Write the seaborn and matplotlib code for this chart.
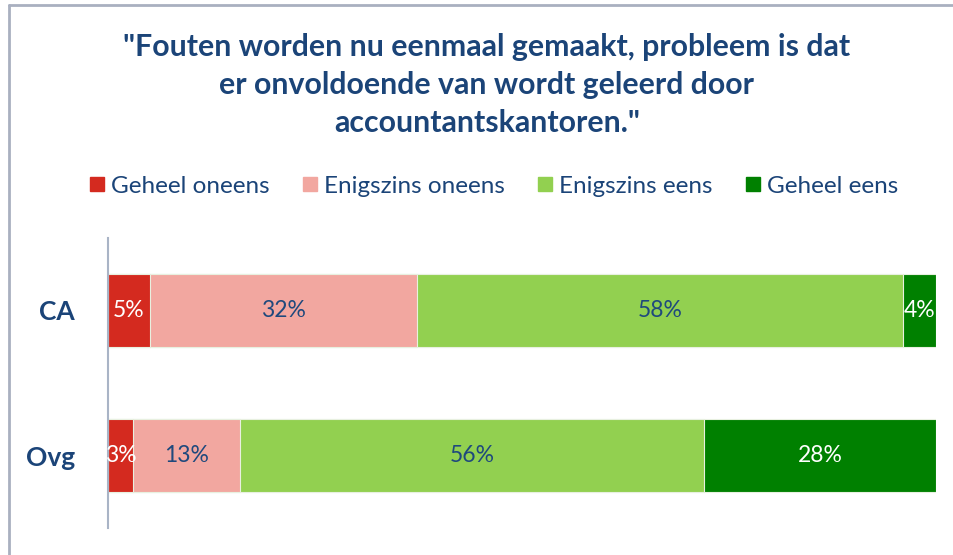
import matplotlib
matplotlib.use("Agg")
import matplotlib.pyplot as plt
from matplotlib.lines import Line2D
import seaborn as sns
import numpy as np
import pandas as pd

categories = ["CA", "Ovg"]
series = ["Geheel oneens", "Enigszins oneens", "Enigszins eens", "Geheel eens"]
geheel_oneens = [5, 3]
enigszins_oneens = [32, 13]
enigszins_eens = [58, 56]
geheel_eens = [4, 28]
title = '"Fouten worden nu eenmaal gemaakt, probleem is dat\ner onvoldoende van wordt geleerd door\naccountantskantoren."'

colors = ["#D42A1F", "#F2A7A0", "#92D050", "#008000"]
label_colors = ["white", "#1F497D", "#1F497D", "white"]
navy = "#1B4478"

sns.set_theme(style="white")
plt.rcParams["font.family"] = ["Lato", "DejaVu Sans"]

vals = np.array([geheel_oneens, enigszins_oneens, enigszins_eens, geheel_eens], dtype=float)
totals = vals.sum(axis=0)
norm = vals / totals * 100
cum = np.cumsum(norm, axis=0)

fig = plt.figure(figsize=(9.54, 5.55), dpi=100)
ax = fig.add_axes([108/954, 1-528/555, (936-108)/954, (528-238)/555])

# draw cumulative layers from the longest to the shortest
for i in range(len(series) - 1, -1, -1):
    df = pd.DataFrame({"cat": categories, "val": cum[i]})
    sns.barplot(data=df, y="cat", x="val", orient="h", color=colors[i],
                width=0.51, ax=ax, edgecolor="#E8F0E0", linewidth=0.8,
                saturation=1)

starts = cum - norm
for i in range(len(series)):
    for j in range(len(categories)):
        cx = starts[i, j] + norm[i, j] / 2
        ax.text(cx, j, f"{int(vals[i, j])}%", ha="center", va="center",
                fontsize=16.5, color=label_colors[i])

ax.set_xlim(0, 100)
ax.set_ylim(1.5, -0.5)
ax.set_xlabel("")
ax.set_ylabel("")
ax.set_xticks([])
ax.set_yticks([0, 1])
ax.set_yticklabels(categories, fontsize=19, fontweight="bold", color=navy)
ax.tick_params(axis="y", length=0, pad=24)
for s in ["top", "right", "bottom"]:
    ax.spines[s].set_visible(False)
ax.spines["left"].set_color("#A9B4C6")
ax.spines["left"].set_linewidth(1.5)

fig.text(487/954, 1-85/555, title, ha="center", va="center", fontsize=21.8,
         fontweight="bold", color=navy, linespacing=1.45)

handles = [Line2D([0], [0], marker="s", linestyle="none", markersize=9.4,
                  markerfacecolor=c, markeredgecolor=c) for c in colors]
leg = fig.legend(handles, series, loc="center", bbox_to_anchor=(494/954, 1-186/555),
                 ncol=4, frameon=False, fontsize=17.5, handletextpad=0.3,
                 columnspacing=1.38, handlelength=0.55, borderpad=0, borderaxespad=0)
for t in leg.get_texts():
    t.set_color(navy)

# chart frame (top and left edges)
fig.add_artist(Line2D([9.5/954, 9.5/954], [0, 1-5/555], transform=fig.transFigure,
                      color="#A9B0C0", linewidth=2))
fig.add_artist(Line2D([9.5/954, 1], [1-5/555, 1-5/555], transform=fig.transFigure,
                      color="#A9B0C0", linewidth=2))

fig.savefig("out.png", dpi=100, facecolor="white")
